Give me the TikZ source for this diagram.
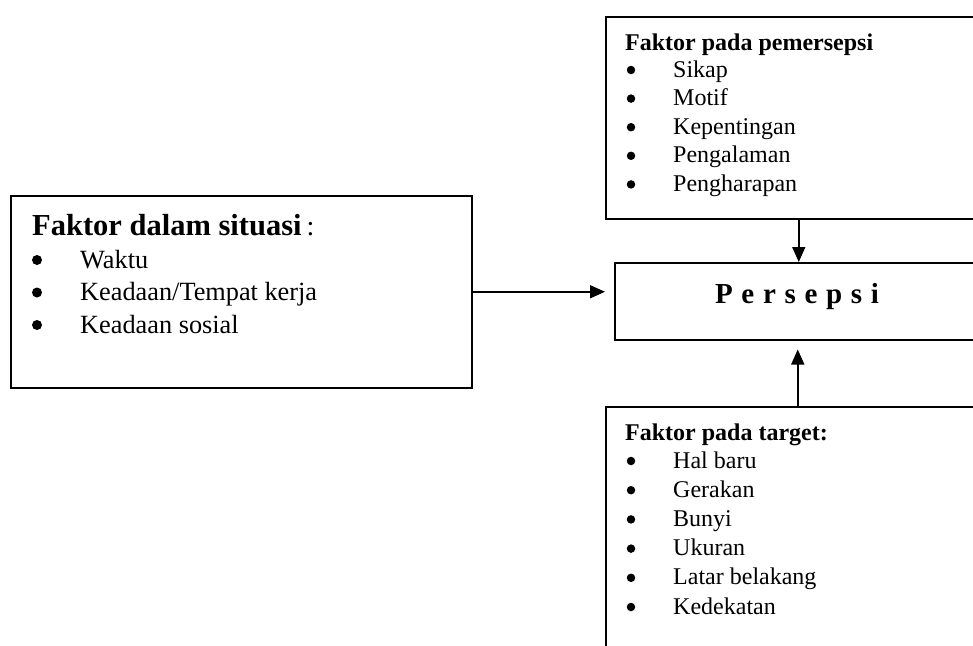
\documentclass[tikz,border=0pt]{standalone}
\usepackage{fontspec}
\setmainfont{Liberation Serif}
\usetikzlibrary{arrows.meta}
\tikzset{
  kotak/.style={draw, line width=1.5pt, rectangle, anchor=north west, inner sep=0pt},
  teks/.style={anchor=base west, inner sep=0pt},
  titik/.style={circle, fill, inner sep=0pt, minimum size=#1},
  titik/.default=8.5pt,
  panah/.style={line width=1.6pt, -{Triangle[length=15pt,width=13pt]}}
}
\newcommand{\isikecil}{\fontsize{24}{28}\selectfont}
\newcommand{\isibesar}{\fontsize{26.3}{32}\selectfont}

\begin{document}
\begin{tikzpicture}[x=1pt,y=-1pt]
\useasboundingbox (0,0) rectangle (973,645);
\clip (0,0) rectangle (973,645);

\node[kotak, minimum width=386pt, minimum height=202pt] (pemersepsi) at (605,16) {};
\node[kotak, minimum width=461pt, minimum height=192pt] (situasi) at (10,195) {};
\node[kotak, minimum width=365pt, minimum height=77pt] (persepsi) at (614,262) {};
\node[kotak, minimum width=384pt, minimum height=260pt] (target) at (605,406) {};

\node[teks] (judul-pemersepsi) at (625,50) {\isikecil\bfseries Faktor pada pemersepsi};
\foreach \faktor [count=\i] in {Sikap,Motif,Kepentingan,Pengalaman,Pengharapan} {
  \node[titik] (b-pemersepsi-\i) at (631,70+28.6*\i-28.6) {};
  \node[teks] (t-pemersepsi-\i) at (673,77+28.6*\i-28.6) {\isikecil\faktor};
}

\node[teks] (judul-situasi) at (32,235) {\fontsize{30.5}{36}\selectfont\textbf{Faktor dalam situasi}\hspace{5pt}{\fontsize{28}{32}\selectfont:}};
\foreach \faktor [count=\i] in {Waktu,Keadaan/Tempat kerja,Keadaan sosial} {
  \node[titik=10pt] (b-situasi-\i) at (37,260+32.5*\i-32.5) {};
  \node[teks] (t-situasi-\i) at (80,268+32.5*\i-32.5) {\isibesar\faktor};
}

\node[anchor=base, inner sep=0pt] (judul-persepsi) at (797,303)
  {\fontsize{29}{34}\selectfont\addfontfeature{LetterSpace=30}\bfseries Persepsi};

\node[teks] (judul-target) at (625,440) {\isikecil\bfseries Faktor pada target:};
\foreach \faktor [count=\i] in {Hal baru,Gerakan,Bunyi,Ukuran,Latar belakang,Kedekatan} {
  \node[titik] (b-target-\i) at (631,461+29.2*\i-29.2) {};
  \node[teks] (t-target-\i) at (673,468+29.2*\i-29.2) {\isikecil\faktor};
}

\draw[panah, shorten >=9pt] (situasi.east) -- (situasi.east -| persepsi.west);
\draw[panah] (pemersepsi.south) -- (persepsi.north -| pemersepsi.south);
\draw[panah, shorten >=9pt] (target.north) -- (persepsi.south -| target.north);
\end{tikzpicture}
\end{document}
